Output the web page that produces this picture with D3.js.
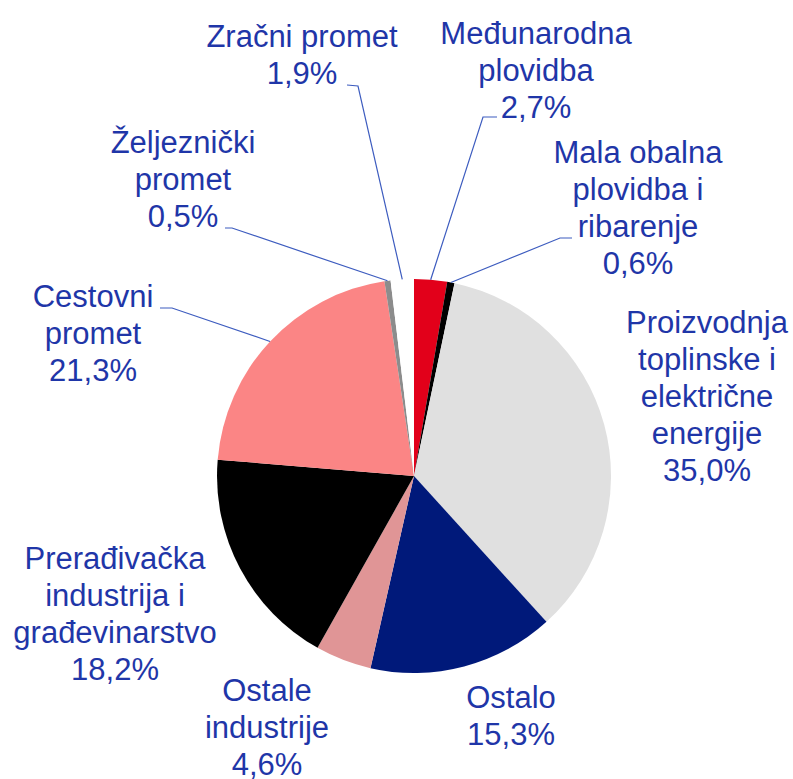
<!DOCTYPE html>
<html>
<head>
<meta charset="utf-8">
<script src="https://cdn.jsdelivr.net/npm/d3@7"></script>
<style>
  body { margin: 0; background: #fff; }
  svg { display: block; }
  text { font-family: "Liberation Sans", Arial, sans-serif; }
</style>
</head>
<body>
<div id="chart"></div>
<script>
// sectors, clockwise from 12 o'clock
const labels = [
    "Međunarodna\nplovidba",
    "Mala obalna\nplovidba i\nribarenje",
    "Proizvodnja\ntoplinske i\nelektrične\nenergije",
    "Ostalo",
    "Ostale\nindustrije",
    "Prerađivačka\nindustrija i\ngrađevinarstvo",
    "Cestovni\npromet",
    "Željeznički\npromet",
    "Zračni promet"
];
const values = [2.7, 0.6, 35.0, 15.3, 4.6, 18.2, 21.3, 0.5, 1.9];
const colors = ["#e2001a", "#000000", "#e0e0e0", "#00197a", "#e09596",
                "#000000", "#fb8585", "#8c8c8c", "#ffffff"];

// label placement: centre x, first baseline, optional leader start/elbow
const labelPos = [
    { x: 536, y: 44,  lead: [[497, 117], [483, 117]] },
    { x: 638, y: 163, lead: [[572, 238], [560, 238]] },
    { x: 707, y: 333 },
    { x: 511, y: 708 },
    { x: 267, y: 701 },
    { x: 115, y: 569 },
    { x: 93,  y: 307, lead: [[160, 308], [172, 308]] },
    { x: 183, y: 153, lead: [[225, 228], [232, 228]] },
    { x: 302, y: 47,  lead: [[347, 85], [358, 86]] }
];

const width = 793, height = 779;
const cx = 414, cy = 476, radius = 197;
const lineH = 37;
const textColor = "#1f36a8";

const svg = d3.select("#chart").append("svg")
    .attr("width", width)
    .attr("height", height);

const g = svg.append("g").attr("transform", `translate(${cx},${cy})`);

const pie = d3.pie().sort(null).value(d => d.value);
const arcs = pie(values.map((v, i) => ({ value: v, label: labels[i], color: colors[i], pos: labelPos[i] })));

const arc = d3.arc().innerRadius(0).outerRadius(radius);

g.selectAll("path.slice")
    .data(arcs)
    .enter().append("path")
    .attr("class", "slice")
    .attr("d", arc)
    .attr("fill", d => d.data.color);

// leader lines to the outer edge at the middle of the slice
const line = d3.line();
svg.selectAll("path.leader")
    .data(arcs.filter(d => d.data.pos.lead))
    .enter().append("path")
    .attr("class", "leader")
    .attr("fill", "none")
    .attr("stroke", "#3d5cbf")
    .attr("stroke-width", 1.2)
    .attr("d", d => {
        const a = (d.startAngle + d.endAngle) / 2;
        const end = [cx + radius * Math.sin(a), cy - radius * Math.cos(a)];
        return line([...d.data.pos.lead, end]);
    });

const fmt = v => d3.format(".1f")(v).replace(".", ",") + "%";

const labelG = svg.selectAll("text.lbl")
    .data(arcs)
    .enter().append("text")
    .attr("class", "lbl")
    .attr("text-anchor", "middle")
    .attr("fill", textColor)
    .style("font-size", "31px");

labelG.each(function(d) {
    const lines = d.data.label.split("\n").concat([fmt(d.data.value)]);
    const t = d3.select(this);
    lines.forEach((s, i) => {
        t.append("tspan")
            .attr("x", d.data.pos.x)
            .attr("y", d.data.pos.y + i * lineH)
            .text(s);
    });
});
</script>
</body>
</html>
